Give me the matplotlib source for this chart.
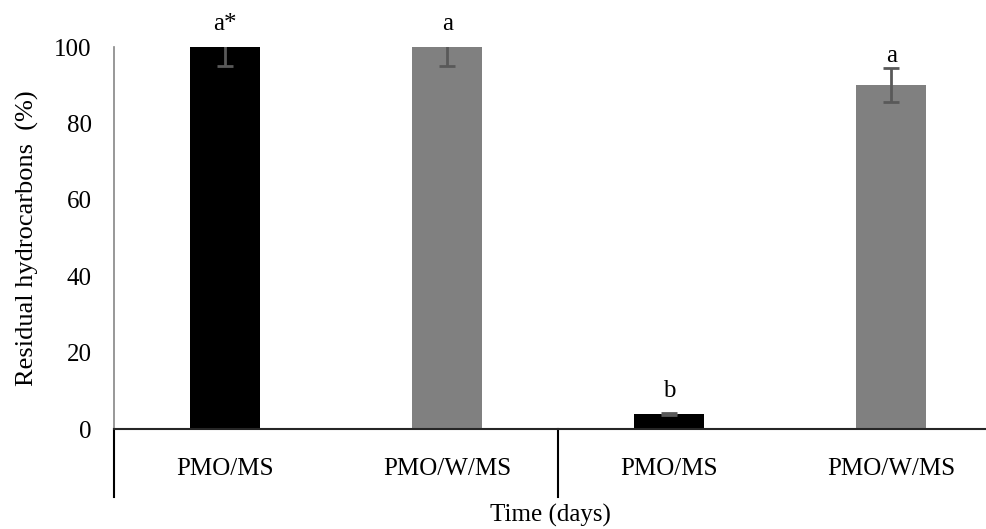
import matplotlib
matplotlib.use("Agg")
import matplotlib.pyplot as plt
import matplotlib.transforms as mtransforms

plt.rcParams['font.family'] = ['Liberation Serif', 'DejaVu Serif']

groups = ["PMO/MS", "PMO/W/MS", "PMO/MS", "PMO/W/MS"]
residual = [100, 100, 4, 90]
errors = [5, 5, 0.3, 4.5]
letters = ["a*", "a", "b", "a"]
bar_colors = ["#000000", "#808080", "#000000", "#808080"]

fs = 18
# how far each letter sits above its bar, in pixels
label_gap = [17, 17, 17, 23]

fig = plt.figure(figsize=(9.87, 5.29), dpi=100)
ax = fig.add_axes([114 / 987, 100 / 529, 1 - 114 / 987, 382 / 529])

x = list(range(len(groups)))
ax.bar(x, residual, width=0.315, color=bar_colors, zorder=2)
ax.errorbar(x, residual, yerr=errors, fmt="none", ecolor="#595959",
            elinewidth=2, capsize=6, capthick=2, zorder=3)

for xi, v, t, g in zip(x, residual, letters, label_gap):
    ax.annotate(t, (xi, v), xytext=(0, g * 0.72), textcoords="offset points",
                ha="center", va="baseline", fontsize=fs, annotation_clip=False)

ax.set_xlim(-0.5, 3.43)
ax.set_ylim(0, 100)
ax.set_yticks([0, 20, 40, 60, 80, 100])
ax.tick_params(axis="y", length=0, pad=16, labelsize=fs)
ax.set_xticks(x)
ax.set_xticklabels(groups)
ax.tick_params(axis="x", length=0, pad=21, labelsize=fs)

for s in ["top", "right"]:
    ax.spines[s].set_visible(False)
ax.spines["left"].set_color("#868686")
ax.spines["left"].set_linewidth(1.2)
ax.spines["bottom"].set_color("#262626")
ax.spines["bottom"].set_linewidth(1.5)

# separator lines under the category axis
trans = mtransforms.blended_transform_factory(ax.transData, ax.transAxes)
for xs in [-0.5, 1.5, 3.5]:
    ax.plot([xs, xs], [0, -68 / 382], color="black", lw=1.5,
            transform=trans, clip_on=False)

ax.set_ylabel("Residual hydrocarbons  (%)", fontsize=19, labelpad=11)
ax.set_xlabel("Time (days)", fontsize=fs, labelpad=17)

fig.savefig("out.png", dpi=100)
